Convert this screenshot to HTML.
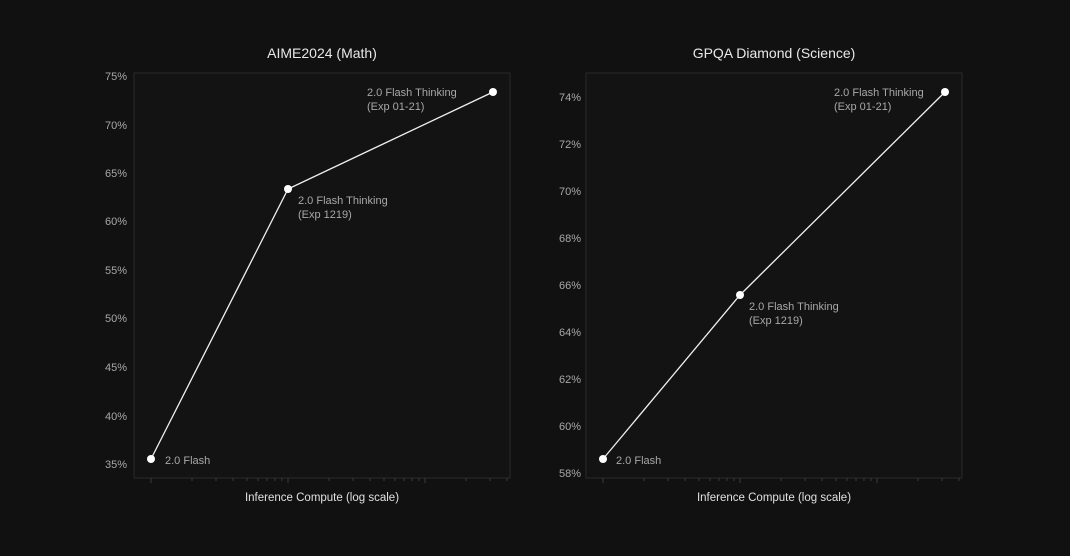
<!DOCTYPE html>
<html><head><meta charset="utf-8"><style>
html,body{margin:0;padding:0;background:#111111;}
svg{display:block;}
text{font-family:"Liberation Sans",sans-serif;}
</style></head><body>
<svg width="1070" height="556" viewBox="0 0 1070 556" xmlns="http://www.w3.org/2000/svg">
<rect width="1070" height="556" fill="#111111"/>
<!-- Left chart -->
<text x="322" y="58" fill="#e8e8e8" font-size="14" text-anchor="middle">AIME2024 (Math)</text>
<rect x="134" y="73" width="376" height="405" fill="#131313" stroke="#2a2a2a" stroke-width="1"/>
<g fill="#a8a8a8" font-size="11" text-anchor="end">
<text x="127" y="80">75%</text><text x="127" y="129">70%</text><text x="127" y="177">65%</text>
<text x="127" y="225">60%</text><text x="127" y="274">55%</text><text x="127" y="322">50%</text>
<text x="127" y="371">45%</text><text x="127" y="420">40%</text><text x="127" y="468">35%</text>
</g>
<g stroke="#3a3a3a" stroke-width="1">
<line x1="151" y1="478" x2="151" y2="483"/><line x1="192" y1="478" x2="192" y2="481"/><line x1="216" y1="478" x2="216" y2="481"/><line x1="233" y1="478" x2="233" y2="481"/><line x1="247" y1="478" x2="247" y2="481"/><line x1="258" y1="478" x2="258" y2="481"/><line x1="267" y1="478" x2="267" y2="481"/><line x1="275" y1="478" x2="275" y2="481"/><line x1="282" y1="478" x2="282" y2="481"/>
<line x1="288" y1="478" x2="288" y2="483"/><line x1="329" y1="478" x2="329" y2="481"/><line x1="353" y1="478" x2="353" y2="481"/><line x1="370" y1="478" x2="370" y2="481"/><line x1="384" y1="478" x2="384" y2="481"/><line x1="395" y1="478" x2="395" y2="481"/><line x1="404" y1="478" x2="404" y2="481"/><line x1="412" y1="478" x2="412" y2="481"/><line x1="419" y1="478" x2="419" y2="481"/>
<line x1="425" y1="478" x2="425" y2="483"/><line x1="466" y1="478" x2="466" y2="481"/><line x1="490" y1="478" x2="490" y2="481"/><line x1="507" y1="478" x2="507" y2="481"/>
</g>
<polyline points="151,459 288,189 493,92" fill="none" stroke="#f0f0f0" stroke-width="1.3"/>
<circle cx="151" cy="459" r="4" fill="#fff"/><circle cx="288" cy="189" r="4" fill="#fff"/><circle cx="493" cy="92" r="4" fill="#fff"/>
<g fill="#a8a8a8" font-size="11">
<text x="165" y="464">2.0 Flash</text>
<text x="298" y="204">2.0 Flash Thinking</text><text x="298" y="218">(Exp 1219)</text>
<text x="367" y="96">2.0 Flash Thinking</text><text x="367" y="110">(Exp 01-21)</text>
</g>
<text x="322" y="501" fill="#e0e0e0" font-size="11.5" text-anchor="middle">Inference Compute (log scale)</text>

<!-- Right chart -->
<text x="774" y="58" fill="#e8e8e8" font-size="14" text-anchor="middle">GPQA Diamond (Science)</text>
<rect x="586" y="73" width="376" height="405" fill="#131313" stroke="#2a2a2a" stroke-width="1"/>
<g fill="#a8a8a8" font-size="11" text-anchor="end">
<text x="581" y="101">74%</text><text x="581" y="148">72%</text><text x="581" y="195">70%</text>
<text x="581" y="242">68%</text><text x="581" y="289">66%</text><text x="581" y="336">64%</text>
<text x="581" y="383">62%</text><text x="581" y="430">60%</text><text x="581" y="477">58%</text>
</g>
<g stroke="#3a3a3a" stroke-width="1">
<line x1="603" y1="478" x2="603" y2="483"/><line x1="644" y1="478" x2="644" y2="481"/><line x1="668" y1="478" x2="668" y2="481"/><line x1="685" y1="478" x2="685" y2="481"/><line x1="699" y1="478" x2="699" y2="481"/><line x1="710" y1="478" x2="710" y2="481"/><line x1="719" y1="478" x2="719" y2="481"/><line x1="727" y1="478" x2="727" y2="481"/><line x1="734" y1="478" x2="734" y2="481"/>
<line x1="740" y1="478" x2="740" y2="483"/><line x1="781" y1="478" x2="781" y2="481"/><line x1="805" y1="478" x2="805" y2="481"/><line x1="822" y1="478" x2="822" y2="481"/><line x1="836" y1="478" x2="836" y2="481"/><line x1="847" y1="478" x2="847" y2="481"/><line x1="856" y1="478" x2="856" y2="481"/><line x1="864" y1="478" x2="864" y2="481"/><line x1="871" y1="478" x2="871" y2="481"/>
<line x1="877" y1="478" x2="877" y2="483"/><line x1="918" y1="478" x2="918" y2="481"/><line x1="942" y1="478" x2="942" y2="481"/><line x1="959" y1="478" x2="959" y2="481"/>
</g>
<polyline points="603,459 740,295 945,92" fill="none" stroke="#f0f0f0" stroke-width="1.3"/>
<circle cx="603" cy="459" r="4" fill="#fff"/><circle cx="740" cy="295" r="4" fill="#fff"/><circle cx="945" cy="92" r="4" fill="#fff"/>
<g fill="#a8a8a8" font-size="11">
<text x="616" y="464">2.0 Flash</text>
<text x="749" y="310">2.0 Flash Thinking</text><text x="749" y="324">(Exp 1219)</text>
<text x="834" y="96">2.0 Flash Thinking</text><text x="834" y="110">(Exp 01-21)</text>
</g>
<text x="774" y="501" fill="#e0e0e0" font-size="11.5" text-anchor="middle">Inference Compute (log scale)</text>
</svg>
</body></html>
